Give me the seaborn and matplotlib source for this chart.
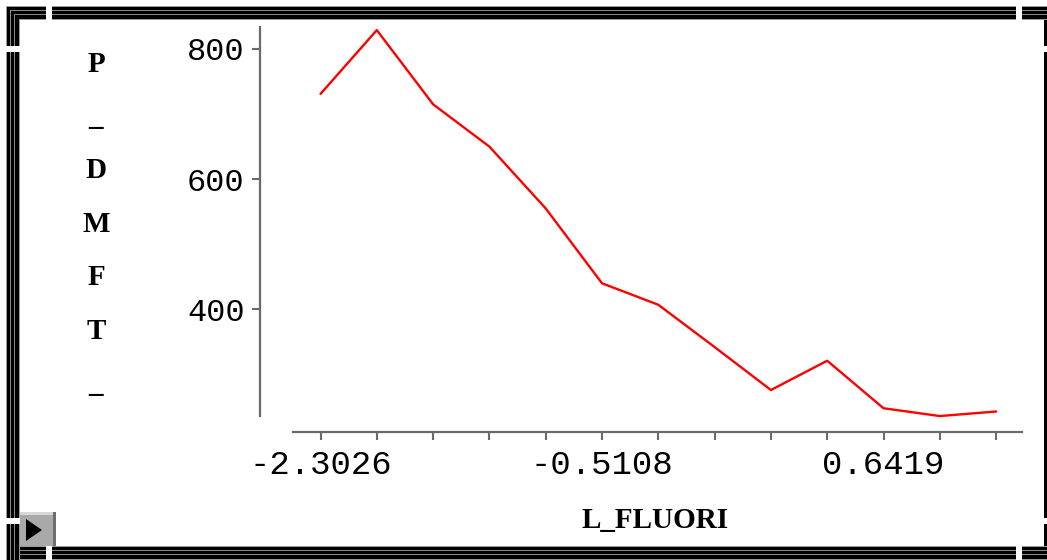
import numpy as np
import pandas as pd
import seaborn as sns
import matplotlib
matplotlib.use("Agg")
import matplotlib.pyplot as plt
from matplotlib.patches import Rectangle, Polygon

# Mean P_DMFT_ for each fluoride level category (ordered along the x axis)
dmft_values = [731, 829, 715, 650, 555, 440, 407, 342, 276, 321, 248, 236, 243]
# Category labels (log fluoride); only every fifth category is labelled
tick_labels = ["-2.3026", "", "", "", "", "-0.5108", "", "", "", "", "0.6419", "", ""]
y_ticks = [400, 600, 800]
x_title = "L_FLUORI"
y_title = "P_DMFT_"

W, H = 1047, 560
sns.set_theme(style="white")
plt.rcParams["font.family"] = ["DejaVu Sans"]

fig = plt.figure(figsize=(W / 100, H / 100), dpi=100)
fig.patch.set_facecolor("white")


def fx(x):
    return x / W


def fy(y):
    return 1 - y / H


ax = fig.add_axes([fx(260), fy(432), (1022 - 260) / W, (432 - 27) / H])
ax.set_facecolor("white")

df = pd.DataFrame({"cat": np.arange(len(dmft_values)), "dmft": dmft_values})
sns.lineplot(data=df, x="cat", y="dmft", color="#ff0000", linewidth=1.7, ax=ax)

ax.set_xlim(-1.075, 12.46)
ax.set_ylim(211.5, 833.8)

grey = "#6a6a6a"
for s in ["top", "right"]:
    ax.spines[s].set_visible(False)
for s in ["left", "bottom"]:
    ax.spines[s].set_color(grey)
    ax.spines[s].set_linewidth(1.6)
ax.spines["left"].set_bounds(236, 833.8)
ax.spines["bottom"].set_bounds(-0.488, 12.46)

ax.set_xticks(df["cat"])
ax.set_xticklabels(tick_labels)
ax.set_yticks(y_ticks)
ax.set_yticklabels([str(v) for v in y_ticks])
ax.tick_params(axis="both", which="major", direction="out", bottom=True, left=True,
               color=grey, width=1.5, length=5.5, labelcolor="black")
ax.tick_params(axis="x", pad=7.5, labelsize=24.5)
ax.tick_params(axis="y", pad=5.5, labelsize=23)
for lab in ax.get_xticklabels() + ax.get_yticklabels():
    lab.set_fontfamily("Liberation Mono")
ax.set_xlabel("")
ax.set_ylabel("")
ax.grid(False)

# Axis titles in bold serif; the vertical title is stacked letter by letter
fig.text(fx(655), fy(528), x_title, ha="center", va="baseline", color="black",
         fontsize=21, fontweight="bold", family="Liberation Serif")
for i, ch in enumerate(y_title):
    fig.text(fx(96), fy(71.7 + 53.4 * i), ch, ha="center", va="baseline", color="black",
             fontsize=21, fontweight="bold", family="Liberation Serif")


# Window frame around the graph
def rect(x0, y0, x1, y1, color, z=10):
    fig.add_artist(Rectangle((fx(x0), fy(y1)), (x1 - x0) / W, (y1 - y0) / H,
                             transform=fig.transFigure, facecolor=color,
                             edgecolor="none", zorder=z))


band = [(0, 1, "#9a9a9a"), (1, 4, "black"), (4, 5, "#8a8a8a"), (5, 8, "black"),
        (8, 9, "#8a8a8a"), (9, 13, "black"), (13, 14, "#9a9a9a")]
# top band
for a, b, c in band:
    rect(6, 6 + a, W, 6 + b, c)
# bottom band
for a, b, c in band:
    rect(6, 546 + a, W, 546 + b, c)
# left band
for a, b, c in band:
    rect(6 + a, 6 + a, 6 + b, 560, c)
# right edge line
rect(1044, 20, 1047, 546, "black")

# gaps in the frame
rect(46, 0, 52, 21, "white", 11)
rect(1016, 0, 1022, 21, "white", 11)
rect(46, 545, 52, 560, "white", 11)
rect(1016, 545, 1022, 560, "white", 11)
rect(0, 46, 21, 52, "white", 11)
rect(0, 518, 21, 524, "white", 11)
rect(1040, 46, 1047, 52, "white", 11)
rect(1040, 518, 1047, 524, "white", 11)

# small arrow button in the lower left corner
rect(20, 512, 56, 546, "#a9a9a9", 12)
rect(20, 512, 56, 515, "#d8d8d8", 13)
rect(53, 512, 56, 546, "#6e6e6e", 13)
fig.add_artist(Polygon([(fx(26), fy(519)), (fx(26), fy(541)), (fx(42), fy(530))],
                       closed=True, transform=fig.transFigure, facecolor="black",
                       edgecolor="none", zorder=14))

fig.savefig("out.png", dpi=100)
